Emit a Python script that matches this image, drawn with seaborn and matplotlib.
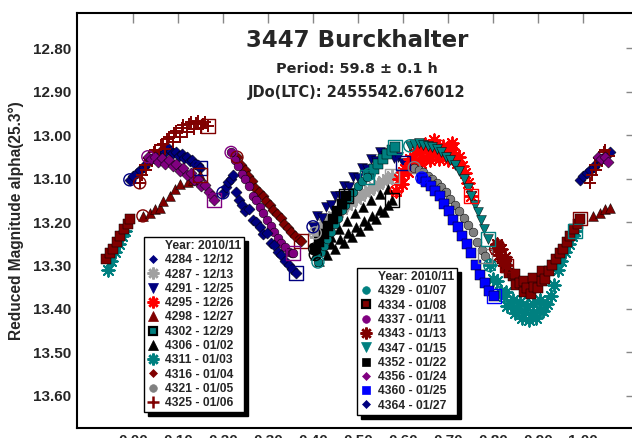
"""
Lightcurve of asteroid 3447 Burckhalter, phased to 59.8 h.
"""

import matplotlib
matplotlib.use("Agg")
import matplotlib.pyplot as plt
from matplotlib.lines import Line2D
import pandas as pd
import seaborn as sns


# phase / reduced magnitude per session
PHASE_4284 = [-0.007, 0.000, 0.008, 0.016, 0.024, 0.030, 0.038, 0.046, 0.052, 0.060, 0.066, 0.072, 0.078,
              0.084, 0.090, 0.096, 0.102, 0.108, 0.114, 0.120, 0.126, 0.132, 0.138, 0.144, 0.149]
MAG_4284 = [13.103, 13.095, 13.088, 13.080, 13.074, 13.066, 13.058, 13.052, 13.046, 13.040, 13.034, 13.038,
            13.030, 13.036, 13.042, 13.038, 13.048, 13.044, 13.054, 13.050, 13.060, 13.058, 13.066, 13.070, 13.076]

PHASE_4287 = [0.405, 0.415, 0.425, 0.435, 0.445, 0.455, 0.465, 0.475, 0.485, 0.495, 0.505, 0.515, 0.525,
              0.535, 0.545, 0.555, 0.565, 0.575]
MAG_4287 = [13.225, 13.214, 13.204, 13.196, 13.186, 13.178, 13.170, 13.162, 13.154, 13.146, 13.140, 13.132,
            13.126, 13.120, 13.112, 13.106, 13.100, 13.094]

PHASE_4291 = [0.400, 0.410, 0.420, 0.430, 0.440, 0.450, 0.460, 0.470, 0.480, 0.490, 0.500, 0.510, 0.520,
              0.530, 0.540, 0.550, 0.560, 0.570, 0.580, 0.590, 0.600]
MAG_4291 = [13.211, 13.186, 13.190, 13.165, 13.162, 13.140, 13.140, 13.118, 13.120, 13.096, 13.098, 13.075,
            13.078, 13.055, 13.060, 13.040, 13.048, 13.042, 13.052, 13.050, 13.064]

PHASE_4295 = [0.585, 0.592, 0.598, 0.600, 0.605, 0.612, 0.615, 0.620, 0.628, 0.630, 0.636, 0.640, 0.645,
              0.650, 0.654, 0.660, 0.663, 0.670, 0.672, 0.680, 0.681, 0.690, 0.699, 0.700, 0.708, 0.710,
              0.716, 0.720, 0.724, 0.731, 0.738, 0.745, 0.752]
MAG_4295 = [13.128, 13.100, 13.112, 13.085, 13.078, 13.086, 13.055, 13.058, 13.066, 13.035, 13.040, 13.065,
            13.052, 13.020, 13.030, 13.058, 13.042, 13.012, 13.026, 13.056, 13.040, 13.026, 13.040, 13.058,
            13.032, 13.018, 13.046, 13.065, 13.050, 13.072, 13.088, 13.110, 13.140]

PHASE_4298 = [0.022, 0.038, 0.049, 0.060, 0.067, 0.082, 0.093, 0.104, 0.122, 0.133, 0.149]
MAG_4298 = [13.186, 13.180, 13.170, 13.168, 13.152, 13.140, 13.124, 13.112, 13.108, 13.103, 13.092]

PHASE_4302 = [0.525, 0.535, 0.545, 0.555, 0.565, 0.575, 0.582]
MAG_4302 = [13.090, 13.078, 13.066, 13.055, 13.044, 13.035, 13.028]

PHASE_4306 = [0.405, 0.414, 0.423, 0.432, 0.440, 0.441, 0.450, 0.458, 0.459, 0.468, 0.476, 0.477, 0.486,
              0.494, 0.495, 0.504, 0.512, 0.513, 0.522, 0.530, 0.531, 0.540, 0.548, 0.549, 0.558, 0.566,
              0.567, 0.576]
MAG_4306 = [13.275, 13.290, 13.262, 13.276, 13.235, 13.250, 13.262, 13.215, 13.238, 13.248, 13.198, 13.226,
            13.234, 13.180, 13.212, 13.220, 13.165, 13.198, 13.206, 13.150, 13.186, 13.192, 13.135, 13.172,
            13.178, 13.125, 13.160, 13.150]

PHASE_4311 = [0.793, 0.800, 0.808, 0.816, 0.824, 0.830, 0.832, 0.840, 0.845, 0.848, 0.856, 0.860, 0.864,
              0.872, 0.875, 0.880, 0.888, 0.890, 0.896, 0.904, 0.905, 0.912, 0.920, 0.928, 0.936, 0.944,
              0.952, 0.960, 0.968, 0.976, 0.982]
MAG_4311 = [13.300, 13.330, 13.335, 13.362, 13.370, 13.360, 13.392, 13.390, 13.380, 13.410, 13.400, 13.385,
            13.420, 13.408, 13.392, 13.425, 13.410, 13.388, 13.420, 13.402, 13.380, 13.405, 13.388, 13.370,
            13.345, 13.310, 13.290, 13.270, 13.250, 13.232, 13.220]

PHASE_4316 = [0.231, 0.240, 0.248, 0.256, 0.264, 0.272, 0.280, 0.288, 0.296, 0.304, 0.312, 0.320, 0.328,
              0.336, 0.344, 0.352, 0.360, 0.368, 0.373]
MAG_4316 = [13.051, 13.068, 13.080, 13.094, 13.106, 13.122, 13.130, 13.140, 13.152, 13.162, 13.172, 13.182,
            13.190, 13.204, 13.214, 13.222, 13.232, 13.238, 13.243]

PHASE_4321 = [0.625, 0.635, 0.645, 0.655, 0.665, 0.675, 0.685, 0.695, 0.705, 0.715, 0.725, 0.735, 0.745,
              0.755, 0.765, 0.775, 0.782]
MAG_4321 = [13.075, 13.080, 13.086, 13.094, 13.100, 13.110, 13.120, 13.132, 13.146, 13.160, 13.174, 13.190,
            13.206, 13.224, 13.245, 13.265, 13.278]

PHASE_4325 = [0.015, 0.020, 0.026, 0.030, 0.036, 0.042, 0.046, 0.050, 0.058, 0.062, 0.066, 0.072, 0.076,
              0.080, 0.088, 0.092, 0.096, 0.104, 0.108, 0.112, 0.120, 0.124, 0.128, 0.136, 0.140, 0.144,
              0.152, 0.156, 0.160, 0.166]
MAG_4325 = [13.110, 13.092, 13.070, 13.080, 13.052, 13.060, 13.040, 13.035, 13.048, 13.024, 13.020, 13.032,
            13.010, 13.004, 13.016, 12.996, 12.990, 13.004, 12.984, 12.978, 12.994, 12.974, 12.970, 12.986,
            12.972, 12.968, 12.984, 12.974, 12.970, 12.980]

PHASE_4329 = [0.411, 0.418, 0.425, 0.432, 0.440, 0.448, 0.456, 0.464, 0.472, 0.480, 0.490, 0.500, 0.510, 0.520]
MAG_4329 = [13.292, 13.270, 13.256, 13.240, 13.222, 13.204, 13.190, 13.172, 13.160, 13.145, 13.130, 13.118,
            13.106, 13.097]

PHASE_4334 = [0.812, 0.820, 0.828, 0.830, 0.836, 0.844, 0.850, 0.852, 0.860, 0.868, 0.870, 0.876, 0.884,
              0.890, 0.892, 0.900, 0.908, 0.910, 0.916, 0.924, 0.932, 0.940, 0.948, 0.956, 0.964, 0.972,
              0.980, 0.988, 0.994]
MAG_4334 = [13.255, 13.285, 13.290, 13.305, 13.318, 13.325, 13.320, 13.345, 13.340, 13.362, 13.335, 13.352,
            13.365, 13.328, 13.350, 13.352, 13.335, 13.312, 13.330, 13.312, 13.300, 13.284, 13.272, 13.262,
            13.245, 13.232, 13.215, 13.205, 13.192]

PHASE_4337 = [0.218, 0.226, 0.234, 0.242, 0.250, 0.258, 0.266, 0.274, 0.282, 0.290, 0.298, 0.306, 0.314,
              0.322, 0.330, 0.338, 0.346, 0.354, 0.356]
MAG_4337 = [13.040, 13.058, 13.072, 13.090, 13.100, 13.118, 13.140, 13.150, 13.166, 13.180, 13.196, 13.210,
            13.222, 13.236, 13.248, 13.258, 13.268, 13.272, 13.271]

PHASE_4343 = [0.806, 0.810, 0.814, 0.818, 0.822, 0.826, 0.830]
MAG_4343 = [13.262, 13.250, 13.275, 13.262, 13.290, 13.280, 13.300]

PHASE_4347 = [0.615, 0.625, 0.635, 0.645, 0.655, 0.665, 0.675, 0.685, 0.695, 0.705, 0.715, 0.725, 0.735,
              0.745, 0.752, 0.760, 0.767, 0.774, 0.781, 0.788]
MAG_4347 = [13.025, 13.020, 13.018, 13.022, 13.025, 13.028, 13.032, 13.040, 13.050, 13.058, 13.068, 13.082,
            13.100, 13.122, 13.140, 13.160, 13.178, 13.196, 13.215, 13.240]

PHASE_4352 = [0.404, 0.414, 0.424, 0.434, 0.444, 0.454, 0.464, 0.474]
MAG_4352 = [13.262, 13.245, 13.228, 13.210, 13.192, 13.175, 13.158, 13.140]

PHASE_4356 = [0.033, 0.040, 0.048, 0.056, 0.064, 0.072, 0.080, 0.088, 0.096, 0.104, 0.112, 0.120, 0.128,
              0.136, 0.144, 0.152, 0.160, 0.168, 0.176, 0.180]
MAG_4356 = [13.050, 13.056, 13.050, 13.062, 13.052, 13.066, 13.058, 13.072, 13.066, 13.082, 13.076, 13.092,
            13.088, 13.104, 13.100, 13.118, 13.114, 13.132, 13.140, 13.150]

PHASE_4360 = [0.642, 0.652, 0.662, 0.672, 0.682, 0.692, 0.702, 0.712, 0.722, 0.732, 0.742, 0.752, 0.762,
              0.772, 0.782, 0.792, 0.802]
MAG_4360 = [13.099, 13.108, 13.118, 13.128, 13.140, 13.158, 13.175, 13.195, 13.212, 13.232, 13.250, 13.272,
            13.298, 13.322, 13.340, 13.358, 13.370]

PHASE_4364 = [0.200, 0.206, 0.212, 0.218, 0.222, 0.230, 0.236, 0.242, 0.250, 0.258, 0.266, 0.274, 0.282,
              0.290, 0.298, 0.306, 0.314, 0.322, 0.330, 0.338, 0.346, 0.354, 0.362]
MAG_4364 = [13.133, 13.120, 13.108, 13.100, 13.092, 13.130, 13.150, 13.160, 13.175, 13.170, 13.195, 13.200,
            13.212, 13.228, 13.226, 13.248, 13.252, 13.270, 13.275, 13.290, 13.300, 13.308, 13.317]

LEGEND_TITLE = "Year: 2010/11"
SESSIONS_LEFT = ["4284 - 12/12", "4287 - 12/13", "4291 - 12/25", "4295 - 12/26", "4298 - 12/27",
                 "4302 - 12/29", "4306 - 01/02", "4311 - 01/03", "4316 - 01/04", "4321 - 01/05",
                 "4325 - 01/06"]
SESSIONS_RIGHT = ["4329 - 01/07", "4334 - 01/08", "4337 - 01/11", "4343 - 01/13", "4347 - 01/15",
                  "4352 - 01/22", "4356 - 01/24", "4360 - 01/25", "4364 - 01/27"]

SESSION_DATA = {
    "4284": (PHASE_4284, MAG_4284), "4287": (PHASE_4287, MAG_4287), "4291": (PHASE_4291, MAG_4291),
    "4295": (PHASE_4295, MAG_4295), "4298": (PHASE_4298, MAG_4298), "4302": (PHASE_4302, MAG_4302),
    "4306": (PHASE_4306, MAG_4306), "4311": (PHASE_4311, MAG_4311), "4316": (PHASE_4316, MAG_4316),
    "4321": (PHASE_4321, MAG_4321), "4325": (PHASE_4325, MAG_4325), "4329": (PHASE_4329, MAG_4329),
    "4334": (PHASE_4334, MAG_4334), "4337": (PHASE_4337, MAG_4337), "4343": (PHASE_4343, MAG_4343),
    "4347": (PHASE_4347, MAG_4347), "4352": (PHASE_4352, MAG_4352), "4356": (PHASE_4356, MAG_4356),
    "4360": (PHASE_4360, MAG_4360), "4364": (PHASE_4364, MAG_4364),
}

NAVY, GRAY, LGRAY, RED, DRED = "#000080", "#808080", "#a0a0a0", "#ff0000", "#800000"
TEAL, BLACK, PURPLE, BLUE = "#008080", "#000000", "#800080", "#0000ff"
STAR = (8, 2, 0)

# colour, marker, black legend edge
STYLES = {
    "4284": (NAVY, "D", False), "4287": (LGRAY, STAR, False), "4291": (NAVY, "v", False),
    "4295": (RED, STAR, False), "4298": (DRED, "^", False), "4302": (TEAL, "s", True),
    "4306": (BLACK, "^", False), "4311": (TEAL, STAR, False), "4316": (DRED, "D", False),
    "4321": (GRAY, "o", False), "4325": (DRED, "+", False), "4329": (TEAL, "o", False),
    "4334": (DRED, "s", True), "4337": (PURPLE, "o", False), "4343": (DRED, STAR, False),
    "4347": (TEAL, "v", False), "4352": (BLACK, "s", False), "4356": (PURPLE, "D", False),
    "4360": (BLUE, "s", False), "4364": (NAVY, "D", False),
}
SIZES = {"D": 32, "o": 40, "s": 42, "^": 50, "v": 50, "+": 80, STAR: 80}
LEGEND_SIZES = {"D": 4.5, "o": 5.5, "s": 6.0, "^": 6.5, "v": 6.5, "+": 8.5, STAR: 8.5}

WRAP = 0.06  # data repeated past both ends of the phase axis


def build_table() -> pd.DataFrame:
    rows = []
    for session, (phases, mags) in SESSION_DATA.items():
        for phase, mag in zip(phases, mags):
            rows.append((session, phase, mag))
            if phase <= WRAP:
                rows.append((session, phase + 1.0, mag))
            if phase >= 1.0 - WRAP:
                rows.append((session, phase - 1.0, mag))
    return pd.DataFrame(rows, columns=["session", "phase", "mag"])


def legend_handle(session: str, label: str) -> Line2D:
    color, marker, black_edge = STYLES[session]
    filled = marker not in ("+", STAR)
    return Line2D([], [], linestyle="none", marker=marker, color=color,
                  markersize=LEGEND_SIZES[marker],
                  markeredgecolor=BLACK if black_edge else color,
                  markeredgewidth=1.6 if black_edge else (0.5 if filled else 1.8),
                  label=label)


def main() -> None:
    sns.set_style("white")
    plt.rcParams["font.family"] = ["Liberation Sans", "DejaVu Sans"]
    plt.rcParams["font.weight"] = "bold"

    table = build_table()

    fig = plt.figure(figsize=(6.32, 4.38), dpi=100)
    ax = fig.add_axes([77 / 632, 10 / 438, 559 / 632, 415 / 438])

    for session in SESSION_DATA:
        color, marker, _ = STYLES[session]
        part = table[table["session"] == session]
        filled = marker not in ("+", STAR)
        kwargs = {"edgecolor": BLACK, "linewidth": 0.35} if filled else {"linewidth": 1.4}
        sns.scatterplot(data=part, x="phase", y="mag", ax=ax, color=color, marker=marker,
                        s=SIZES[marker], legend=False, zorder=3, **kwargs)

        # open circle at the first point, open square at the last
        phases, mags = SESSION_DATA[session]
        ax.scatter([phases[0]], [mags[0]], s=75, marker="o", facecolors="none",
                   edgecolors=color, linewidths=1.0, zorder=4)
        ax.scatter([phases[-1]], [mags[-1]], s=100, marker="s", facecolors="none",
                   edgecolors=color, linewidths=1.0, zorder=4)

    ax.set_xlim(-0.1244, 1.1178)
    ax.set_ylim(13.6736, 12.7195)

    xticks = [i / 10 for i in range(11)]
    yticks = [12.8 + i / 10 for i in range(9)]
    ax.set_xticks(xticks)
    ax.set_xticklabels([f"{t:.2f}" for t in xticks])
    ax.set_yticks(yticks)
    ax.set_yticklabels([f"{t:.2f}" for t in yticks])
    ax.tick_params(direction="in", length=7, width=1, color="#888888", labelsize=11,
                   pad=4, top=True, right=True)
    for label in ax.get_xticklabels() + ax.get_yticklabels():
        label.set_fontweight("bold")
    for spine in ax.spines.values():
        spine.set_linewidth(1.5)
        spine.set_color(BLACK)

    ax.set_xlabel("")
    ax.set_ylabel("Reduced Magnitude alpha(25.3°)", fontsize=11.2, fontweight="bold")
    ax.yaxis.set_label_coords(-0.095, 0.5)

    title_font = ["DejaVu Sans"]
    fig.text(357 / 632, 1 - 47 / 438, "3447 Burckhalter", ha="center", va="baseline",
             fontsize=16.5, fontweight="bold", family=title_font)
    fig.text(357 / 632, 1 - 73 / 438, "Period: 59.8 ± 0.1 h", ha="center", va="baseline",
             fontsize=10.4, fontweight="bold", family=title_font)
    fig.text(357 / 632, 1 - 97 / 438, "JDo(LTC): 2455542.676012", ha="center", va="baseline",
             fontsize=10.5, fontweight="bold", family=title_font)

    # the "Year" line sits in the entry column, so it is an entry without a marker
    title_handle = Line2D([], [], linestyle="none", marker="", label=LEGEND_TITLE)

    legend_opts = dict(loc="upper left", bbox_transform=fig.transFigure,
                       borderaxespad=0, fancybox=False, framealpha=1, edgecolor=BLACK,
                       shadow={"ox": 2.8, "oy": -2.8, "color": BLACK, "alpha": 1},
                       prop={"size": 8.7, "weight": "bold"},
                       labelspacing=0.19, borderpad=0.25, handlelength=1.0, handletextpad=0.45)

    left_handles = [title_handle] + [legend_handle(s.split(" ")[0], s) for s in SESSIONS_LEFT]
    right_handles = [title_handle] + [legend_handle(s.split(" ")[0], s) for s in SESSIONS_RIGHT]

    leg1 = ax.legend(handles=left_handles, bbox_to_anchor=(144 / 632, 1 - 237 / 438), **legend_opts)
    leg1.get_frame().set_linewidth(1.0)
    ax.add_artist(leg1)
    leg2 = ax.legend(handles=right_handles, bbox_to_anchor=(357 / 632, 1 - 268 / 438), **legend_opts)
    leg2.get_frame().set_linewidth(1.0)
    for leg in (leg1, leg2):
        leg.set_zorder(10)

    fig.savefig("out.png", dpi=100)


if __name__ == "__main__":
    main()
